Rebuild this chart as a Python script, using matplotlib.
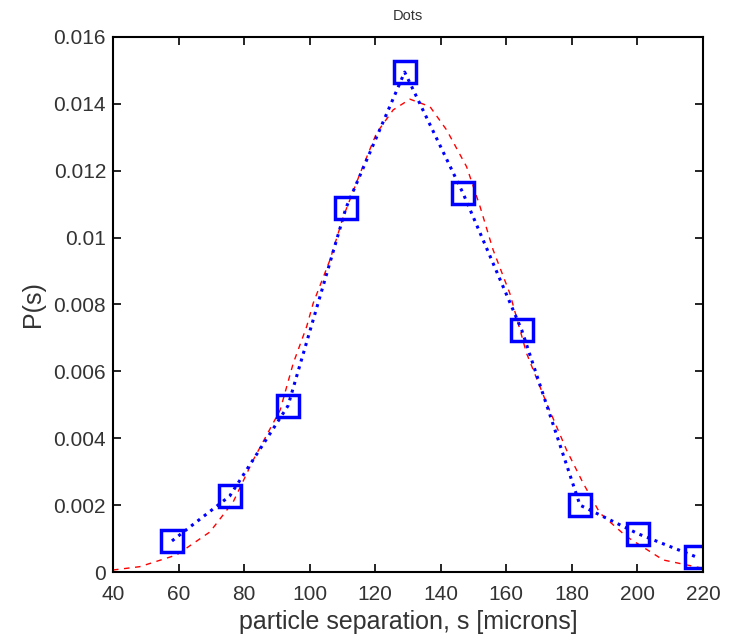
import matplotlib
matplotlib.use("Agg")
import matplotlib.pyplot as plt
import numpy as np

plt.rcParams['font.family'] = ['Liberation Sans', 'DejaVu Sans']

# measured histogram points (blue squares)
sep = [58.0, 75.6, 93.4, 111.1, 129.0, 146.8, 164.7, 182.5, 200.3, 218.0]
prob = [0.00093, 0.00227, 0.00497, 0.01089, 0.01495, 0.01133, 0.00724, 0.00200, 0.00114, 0.00045]

# fitted curve (red dashed)
fit_s = [40, 48.2, 59.4, 69.6, 76.7, 82.8, 91.0, 95.0, 99.1, 101.1, 106.2, 110.3,
         115.4, 120.4, 125.5, 130.6, 136.7, 141.8, 147.9, 152.0, 156.0, 161.1,
         166.2, 172.3, 178.4, 183.5, 188.6, 196.7, 207.9, 220]
fit_p = [0.00006, 0.00016, 0.00051, 0.00120, 0.00210, 0.00335, 0.00484, 0.00624,
         0.00734, 0.00804, 0.00933, 0.01063, 0.01192, 0.01312, 0.01382, 0.01414,
         0.01392, 0.01322, 0.01212, 0.01093, 0.00963, 0.00833, 0.00654, 0.00505,
         0.00365, 0.00265, 0.00176, 0.00106, 0.00036, 0.00011]

xticks = [40, 60, 80, 100, 120, 140, 160, 180, 200, 220]
yticks = [0, 0.002, 0.004, 0.006, 0.008, 0.01, 0.012, 0.014, 0.016]
ytick_labels = ['0', '0.002', '0.004', '0.006', '0.008', '0.01', '0.012', '0.014', '0.016']

fig = plt.figure(figsize=(7.36, 6.43), dpi=100)
ax = fig.add_axes([0.1535, 0.1104, 0.8015, 0.8321])

ax.plot(fit_s, fit_p, color='red', linestyle=(0, (4, 4)), linewidth=1.0)
ax.plot(sep, prob, color='blue', linestyle=':', linewidth=2.2,
        marker='s', markersize=16, markerfacecolor='none',
        markeredgecolor='blue', markeredgewidth=2.5)

ax.set_xlim(40, 220)
ax.set_ylim(0, 0.016)
ax.set_xticks(xticks)
ax.set_yticks(yticks)
ax.set_yticklabels(ytick_labels)
ax.tick_params(direction='in', top=True, right=True, length=6, width=1.2,
               labelsize=15, colors='black', labelcolor='#333333')
ax.tick_params(axis='x', pad=9)
ax.tick_params(axis='y', pad=5)
for sp in ax.spines.values():
    sp.set_linewidth(1.5)

ax.set_xlabel('particle separation, s [microns]', fontsize=18, labelpad=5, color='#333333')
ax.set_ylabel('P(s)', fontsize=18, labelpad=6, color='#333333')
ax.set_title('Dots', fontsize=10.5, pad=12, color='#333333')

fig.savefig('out.png', dpi=100)
